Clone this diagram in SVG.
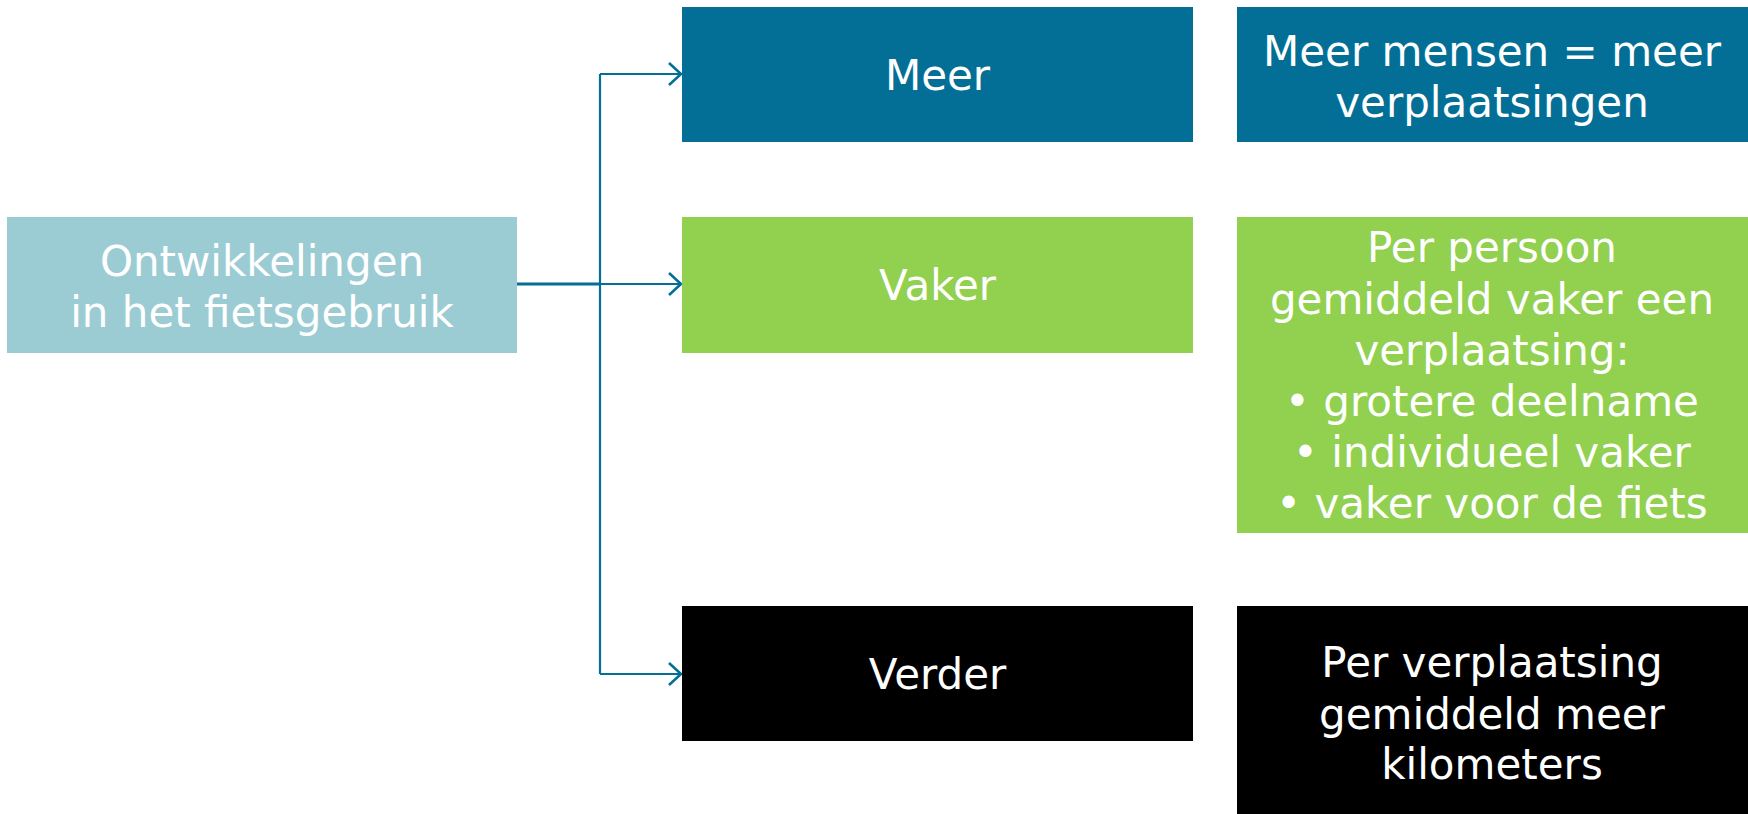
<svg xmlns="http://www.w3.org/2000/svg" width="1748" height="814" viewBox="0 0 1748 814">
<style>
.t{font-family:"DejaVu Sans","Verdana",sans-serif;font-size:42px;fill:#ffffff;text-anchor:middle}
.c{fill:none;stroke:#036F96;stroke-width:2.2}
</style>
<defs>
<marker id="ah" markerUnits="userSpaceOnUse" markerWidth="16" markerHeight="26" refX="13" refY="13" orient="auto" viewBox="0 0 16 26">
<path d="M1,2 L13,13 L1,24" fill="none" stroke="#036F96" stroke-width="2.6"/>
</marker>
</defs>
<rect width="1748" height="814" fill="#ffffff"/>
<g id="connectors">
<path class="c" d="M517,284 H600" style="stroke-width:3"/>
<path class="c" d="M600,284 H681" marker-end="url(#ah)"/>
<path class="c" d="M600,74 V674"/>
<path class="c" d="M600,74 H681" marker-end="url(#ah)"/>
<path class="c" d="M600,674 H681" marker-end="url(#ah)"/>
</g>
<g id="source">
<rect x="7" y="217" width="510" height="136" fill="#9CCCD3"/>
<text class="t" x="262" y="276">Ontwikkelingen</text>
<text class="t" x="262" y="327">in het fietsgebruik</text>
</g>
<g id="meer">
<rect x="682" y="7" width="511" height="135" fill="#036F96"/>
<text class="t" x="937.5" y="90">Meer</text>
</g>
<g id="vaker">
<rect x="682" y="217" width="511" height="136" fill="#92D050"/>
<text class="t" x="937.5" y="300">Vaker</text>
</g>
<g id="verder">
<rect x="682" y="606" width="511" height="135" fill="#000000"/>
<text class="t" x="937.5" y="689">Verder</text>
</g>
<g id="meer-desc">
<rect x="1237" y="7" width="511" height="135" fill="#036F96"/>
<text class="t" x="1492" y="66">Meer mensen = meer</text>
<text class="t" x="1492" y="117">verplaatsingen</text>
</g>
<g id="vaker-desc">
<rect x="1237" y="217" width="511" height="316" fill="#92D050"/>
<text class="t" x="1492" y="262">Per persoon</text>
<text class="t" x="1492" y="314">gemiddeld vaker een</text>
<text class="t" x="1492" y="365">verplaatsing:</text>
<text class="t" x="1492" y="416">• grotere deelname</text>
<text class="t" x="1492" y="467">• individueel vaker</text>
<text class="t" x="1492" y="518">• vaker voor de fiets</text>
</g>
<g id="verder-desc">
<rect x="1237" y="606" width="511" height="208" fill="#000000"/>
<text class="t" x="1492" y="677">Per verplaatsing</text>
<text class="t" x="1492" y="729">gemiddeld meer</text>
<text class="t" x="1492" y="779">kilometers</text>
</g>
</svg>
